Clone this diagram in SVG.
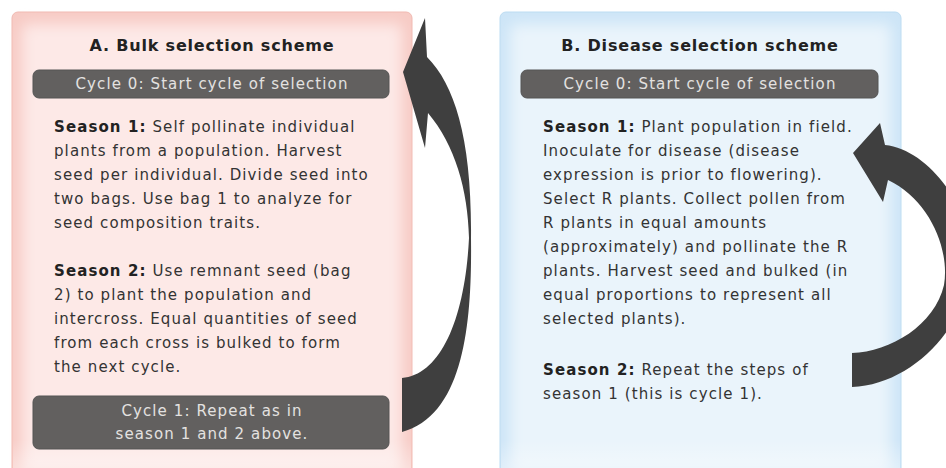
<svg xmlns="http://www.w3.org/2000/svg" width="946" height="468" viewBox="0 0 946 468">
<defs>
<filter id="blur" x="-10%" y="-10%" width="120%" height="120%"><feGaussianBlur stdDeviation="7"/></filter>
<linearGradient id="fade" x1="0" y1="0" x2="0" y2="1"><stop offset="0" stop-color="#fff" stop-opacity="0"/><stop offset="1" stop-color="#fff" stop-opacity="0.35"/></linearGradient>
<style>
.title{font-family:"DejaVu Sans",Verdana,sans-serif;font-size:16px;font-weight:bold;fill:#222;text-anchor:middle;letter-spacing:0.8px}
.bar{fill:#62605f;stroke:#555;stroke-width:1}
.bartxt{font-family:"DejaVu Sans",Verdana,sans-serif;font-size:15px;fill:#e4e2e0;text-anchor:middle;letter-spacing:1.1px}
.body{font-family:"DejaVu Sans",Verdana,sans-serif;font-size:15px;fill:#333;letter-spacing:1.1px}
.b{font-weight:bold;fill:#222}
.arrow{fill:#3f3f3f}
</style>
</defs>
<rect width="946" height="468" fill="#fff"/>

<g id="panelA">
<rect x="12" y="12" width="400" height="470" rx="6" fill="#f7cbc5" stroke="#f1b9b1" stroke-width="1"/>
<rect x="22" y="24" width="380" height="450" rx="6" fill="#fde9e7" filter="url(#blur)"/>
<rect x="13" y="440" width="398" height="28" fill="url(#fade)"/>
<text class="title" x="212" y="51">A. Bulk selection scheme</text>
<rect class="bar" x="33" y="70" width="356" height="28" rx="6"/>
<text class="bartxt" x="212" y="89">Cycle 0: Start cycle of selection</text>
<text class="body" x="54" y="132"><tspan class="b">Season 1:</tspan> Self pollinate individual</text>
<text class="body" x="54" y="156">plants from a population. Harvest</text>
<text class="body" x="54" y="180">seed per individual. Divide seed into</text>
<text class="body" x="54" y="204">two bags. Use bag 1 to analyze for</text>
<text class="body" x="54" y="228">seed composition traits.</text>
<text class="body" x="54" y="276"><tspan class="b">Season 2:</tspan> Use remnant seed (bag</text>
<text class="body" x="54" y="300">2) to plant the population and</text>
<text class="body" x="54" y="324">intercross. Equal quantities of seed</text>
<text class="body" x="54" y="348">from each cross is bulked to form</text>
<text class="body" x="54" y="372">the next cycle.</text>
<rect class="bar" x="33" y="396" width="356" height="53" rx="6"/>
<text class="bartxt" x="212" y="416">Cycle 1: Repeat as in</text>
<text class="bartxt" x="212" y="439">season 1 and 2 above.</text>
</g>

<g id="panelB">
<rect x="500" y="12" width="401" height="470" rx="6" fill="#cde5f7" stroke="#bcdcf2" stroke-width="1"/>
<rect x="510" y="24" width="381" height="450" rx="6" fill="#eaf4fb" filter="url(#blur)"/>
<rect x="501" y="440" width="399" height="28" fill="url(#fade)"/>
<text class="title" x="700" y="51">B. Disease selection scheme</text>
<rect class="bar" x="521" y="70" width="357" height="28" rx="6"/>
<text class="bartxt" x="700" y="89">Cycle 0: Start cycle of selection</text>
<text class="body" x="543" y="132"><tspan class="b">Season 1:</tspan> Plant population in field.</text>
<text class="body" x="543" y="156">Inoculate for disease (disease</text>
<text class="body" x="543" y="180">expression is prior to flowering).</text>
<text class="body" x="543" y="204">Select R plants. Collect pollen from</text>
<text class="body" x="543" y="228">R plants in equal amounts</text>
<text class="body" x="543" y="252">(approximately) and pollinate the R</text>
<text class="body" x="543" y="276">plants. Harvest seed and bulked (in</text>
<text class="body" x="543" y="300">equal proportions to represent all</text>
<text class="body" x="543" y="324">selected plants).</text>
<text class="body" x="543" y="375"><tspan class="b">Season 2:</tspan> Repeat the steps of</text>
<text class="body" x="543" y="399">season 1 (this is cycle 1).</text>
</g>

<g id="connectors">
<path class="arrow" d="M402,432 L402,378 C440,375 465,320 469,238 C468,190 455,145 428,113 L425,148 L403,72 L425,18 L427,57 C455,85 472,140 471,238 C472,320 465,415 402,432 Z"/>
<path class="arrow" d="M852,353 C890,352 935,325 944,285 C950,250 930,200 888,180 L883,202 L853,153 L880,123 L885,145 C930,150 975,210 970,270 C965,330 910,385 852,387 Z"/>
</g>
</svg>
